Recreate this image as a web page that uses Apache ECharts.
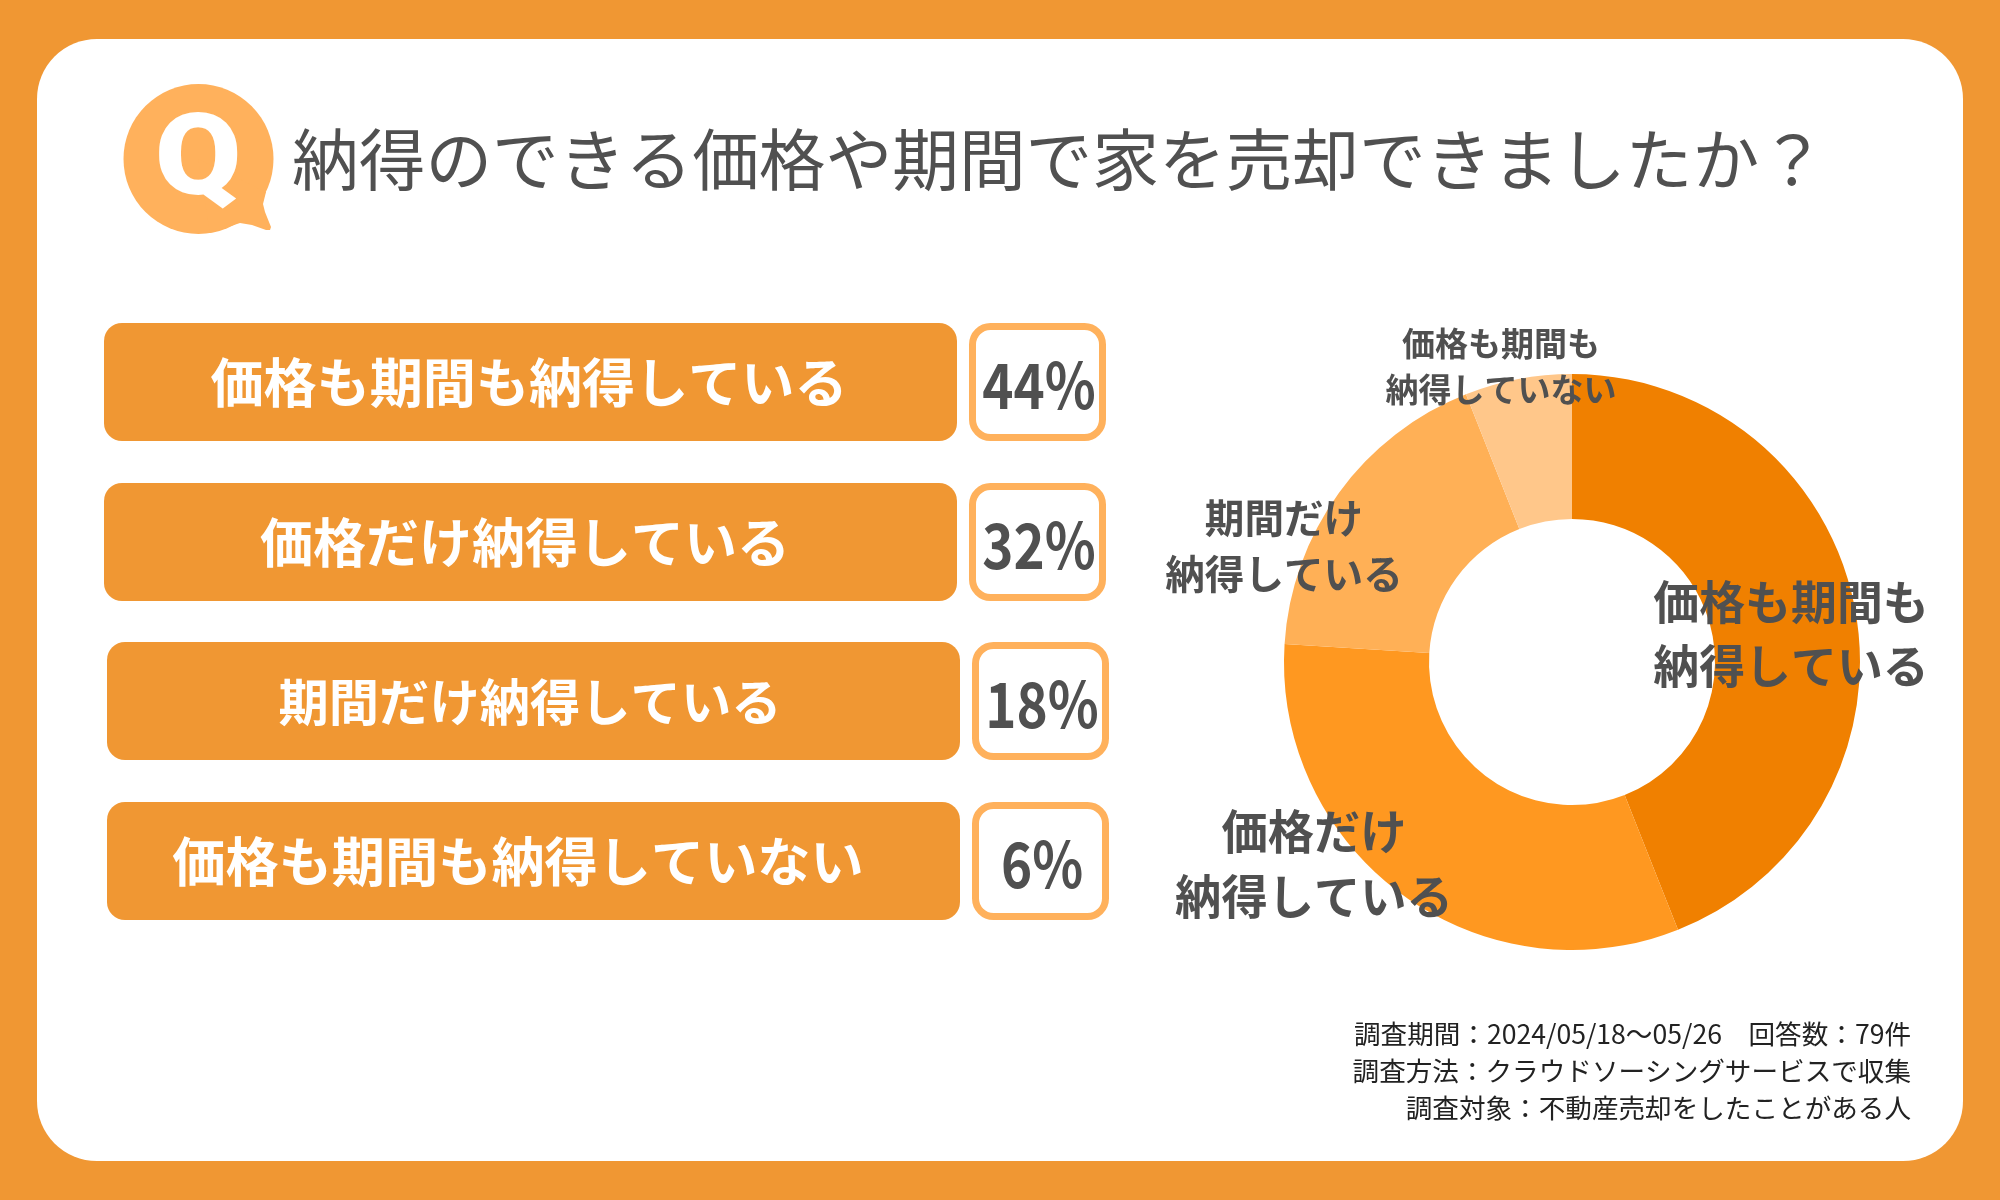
<!DOCTYPE html>
<html>
<head>
<meta charset="utf-8">
<title>納得のできる価格や期間で家を売却できましたか？</title>
<script src="https://cdn.jsdelivr.net/npm/echarts@6/dist/echarts.min.js"></script>
<style>
html, body { margin: 0; padding: 0; background: #F09733; }
#main { width: 2000px; height: 1200px; }
</style>
</head>
<body>
<div id="main"></div>
<script>
var titleText = "納得のできる価格や期間で家を売却できましたか？";
var categories = ["価格も期間も納得している", "価格だけ納得している", "期間だけ納得している", "価格も期間も納得していない"];
var donutNames = ["価格も期間も\n納得している", "価格だけ\n納得している", "期間だけ\n納得している", "価格も期間も\n納得していない"];
var percents = [44, 32, 18, 6];
var sliceColors = ["#F08000", "#FF9820", "#FFB056", "#FFC78A"];
var footnotes = [
    "調査期間：2024/05/18～05/26　回答数：79件",
    "調査方法：クラウドソーシングサービスで収集",
    "調査対象：不動産売却をしたことがある人"
];

// layout of the left hand rows, not data
var rowBoxes = [
    {x: 104, y: 323, textX: 529, textSize: 53.1},
    {x: 104, y: 483, textX: 525, textSize: 53},
    {x: 107, y: 642, textX: 530, textSize: 50.3},
    {x: 107, y: 802, textX: 518, textSize: 53.2}
];
var labelSpots = [
    {x: 1791, y: 634, size: 45.9, lh: 64},
    {x: 1314, y: 864, size: 46.3, lh: 65},
    {x: 1284, y: 546, size: 39.6, lh: 56},
    {x: 1501, y: 366, size: 33, lh: 46}
];

var jp = '"Noto Sans CJK JP", "Noto Sans", sans-serif';
var dark = "#505050";
var elements = [];

function addText(x, y, text, size, color, weight, align, scaleX) {
    elements.push({
        type: "text", x: x, y: y, silent: true,
        scaleX: scaleX || 1,
        style: {
            text: text, fill: color, fontSize: size, fontWeight: weight,
            fontFamily: jp, align: align || "center", verticalAlign: "middle"
        }
    });
}

// white card
elements.push({
    type: "rect", silent: true,
    shape: {x: 37, y: 39, width: 1926, height: 1122, r: 60},
    style: {fill: "#fff"}
});

// Q bubble, circle plus a little tail
elements.push({
    type: "circle", silent: true,
    shape: {cx: 198.5, cy: 159, r: 75},
    style: {fill: "#FFB15C"}
});
elements.push({
    type: "polygon", silent: true,
    shape: {points: [[266, 192], [263, 204], [265, 212], [271, 227], [270, 230], [266, 230], [252, 225], [240, 223], [228, 227], [210, 233], [198, 159]]},
    style: {fill: "#FFB15C"}
});
elements.push({
    type: "text", x: 198, y: 165, silent: true,
    scaleX: 1.1,
    style: {
        text: "Q", fill: "#fff", fontSize: 114, fontWeight: 900,
        fontFamily: 'Roboto, "Noto Sans", sans-serif', align: "center", verticalAlign: "middle"
    }
});
addText(292, 160, titleText, 66.7, dark, "normal", "left");

categories.forEach(function (name, i) {
    var b = rowBoxes[i];
    elements.push({
        type: "rect", silent: true,
        shape: {x: b.x, y: b.y, width: 853, height: 118, r: 18},
        style: {fill: "#F09733"}
    });
    elements.push({
        type: "rect", silent: true,
        shape: {x: b.x + 868.5, y: b.y + 3.5, width: 130, height: 111, r: 18},
        style: {fill: "#fff", stroke: "#FFB15C", lineWidth: 7}
    });
    addText(b.textX, b.y + 60, name, b.textSize, "#fff", "bold");
    addText(b.x + 935, b.y + 62, percents[i] + "%", 63, dark, "bold", "center", 0.84);
});

footnotes.forEach(function (line, i) {
    addText(1911, 1034 + i * 37, line, 26.6, "#222", "normal", "right");
});

var sliceData = donutNames.map(function (name, i) {
    return {
        name: name,
        value: percents[i],
        itemStyle: {color: sliceColors[i]},
        label: {fontSize: labelSpots[i].size, lineHeight: labelSpots[i].lh}
    };
});

var chart = echarts.init(document.getElementById("main"));
chart.setOption({
    animation: false,
    backgroundColor: "#F09733",
    graphic: {elements: elements},
    series: [{
        type: "pie",
        center: [1572, 662],
        radius: [143, 288],
        startAngle: 90,
        silent: true,
        z: 5,
        data: sliceData,
        label: {
            show: true,
            position: "inside",
            formatter: "{b}",
            color: dark,
            fontWeight: "bold",
            fontFamily: jp,
            align: "center"
        },
        labelLine: {show: false},
        labelLayout: function (params) {
            var spot = labelSpots[params.dataIndex];
            return {x: spot.x, y: spot.y, align: "center", verticalAlign: "middle"};
        }
    }]
});
</script>
</body>
</html>
